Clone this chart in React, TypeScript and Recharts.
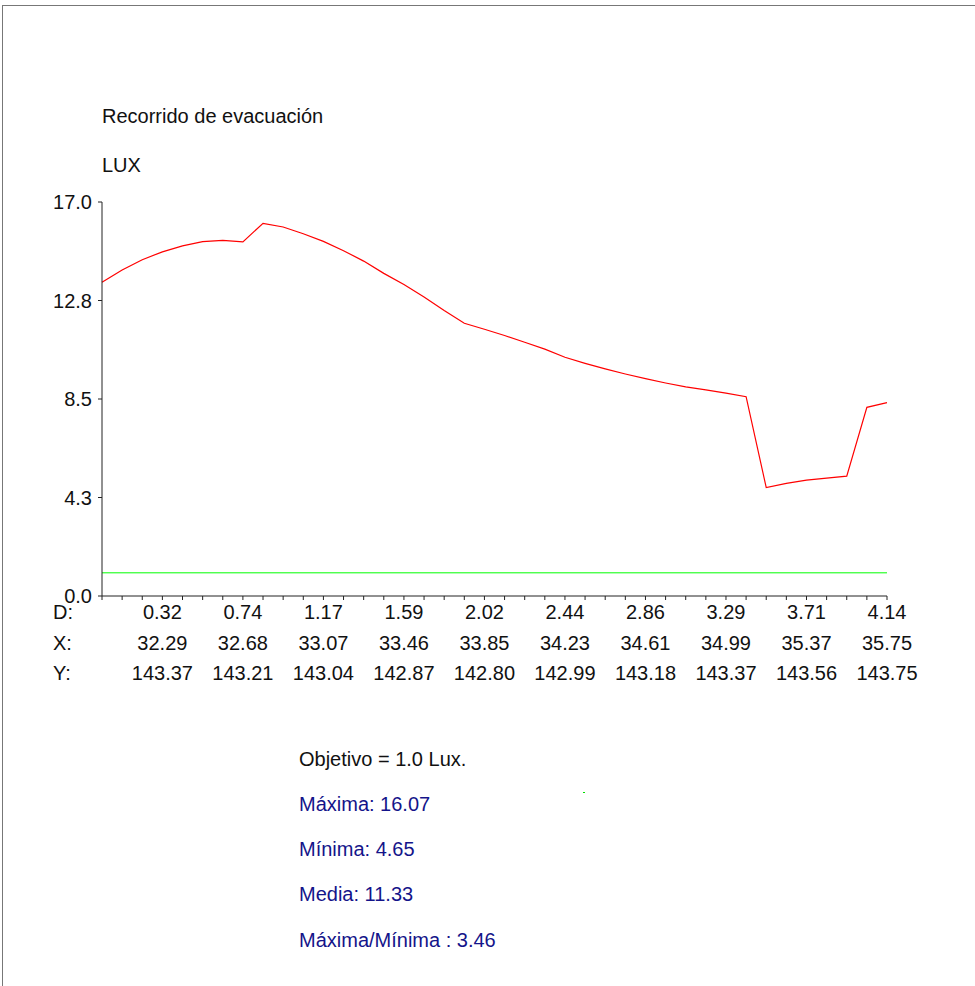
import { LineChart, Line, XAxis, YAxis, ReferenceLine } from "recharts";

// illuminance along the route, one value per calculation point
const luxValues = [
  13.54, 14.07, 14.51, 14.85, 15.11, 15.29, 15.34, 15.28, 16.08, 15.92,
  15.63, 15.3, 14.9, 14.45, 13.92, 13.44, 12.9, 12.32, 11.77, 11.51,
  11.24, 10.95, 10.65, 10.3, 10.04, 9.8, 9.58, 9.38, 9.19, 9.02,
  8.89, 8.75, 8.6, 4.68, 4.86, 5.0, 5.09, 5.17, 8.14, 8.34,
];

// labels shown under every fourth point
const dLabels = ["0.32", "0.74", "1.17", "1.59", "2.02", "2.44", "2.86", "3.29", "3.71", "4.14"];
const xLabels = ["32.29", "32.68", "33.07", "33.46", "33.85", "34.23", "34.61", "34.99", "35.37", "35.75"];
const yLabels = ["143.37", "143.21", "143.04", "142.87", "142.80", "142.99", "143.18", "143.37", "143.56", "143.75"];

const yTicks = [0, 4.25, 8.5, 12.75, 17];
const objetivo = 1.0;

const stats = [
  "Máxima: 16.07",
  "Mínima: 4.65",
  "Media: 11.33",
  "Máxima/Mínima : 3.46",
];

const data = luxValues.map((lux, i) => ({ i, lux }));

const FONT = "'Liberation Sans', Arial, Helvetica, sans-serif";
const BLUE = "#14148a";

const PointTick = (props: any) => {
  const { x, y, payload } = props;
  const idx = payload.index;
  const rows: JSX.Element[] = [];
  if (idx === 0) {
    rows.push(
      <g key="heads" fill="#111" fontSize={20} fontFamily={FONT}>
        <text x={x - 49} y={y + 17}>D:</text>
        <text x={x - 49} y={y + 48}>X:</text>
        <text x={x - 49} y={y + 78}>Y:</text>
      </g>
    );
  }
  if (idx % 4 === 3) {
    const k = (idx - 3) / 4;
    rows.push(
      <g key="vals" fill="#111" fontSize={20} fontFamily={FONT} textAnchor="middle">
        <text x={x} y={y + 17}>{dLabels[k]}</text>
        <text x={x} y={y + 48}>{xLabels[k]}</text>
        <text x={x} y={y + 78}>{yLabels[k]}</text>
      </g>
    );
  }
  return <g>{rows}</g>;
};

export default function App() {
  return (
    <div style={{ position: "absolute", left: 0, top: 0, width: 975, height: 986, background: "#fff", fontFamily: FONT }}>
      {/* frame */}
      <div style={{ position: "absolute", left: 2, top: 5, width: 973, height: 1, background: "#777" }} />
      <div style={{ position: "absolute", left: 2, top: 5, width: 1, height: 981, background: "#777" }} />

      <LineChart
        width={975}
        height={986}
        data={data}
        margin={{ top: 202, right: 88, bottom: 300, left: 42 }}
        style={{ position: "absolute", left: 0, top: 0 }}
      >
        <XAxis
          dataKey="i"
          type="category"
          interval={0}
          tickSize={4}
          tickMargin={2}
          height={90}
          tick={<PointTick />}
          axisLine={{ stroke: "#222" }}
          tickLine={{ stroke: "#222" }}
        />
        <YAxis
          width={60}
          domain={[0, 17]}
          ticks={yTicks}
          tickFormatter={(v: number) => v.toFixed(1)}
          tickSize={4}
          tickMargin={6}
          tick={{ fill: "#111", fontSize: 20, fontFamily: FONT }}
          axisLine={{ stroke: "#222" }}
          tickLine={{ stroke: "#222" }}
        />
        <ReferenceLine y={objetivo} stroke="#00ff00" strokeWidth={1} ifOverflow="extendDomain" />
        <Line
          type="linear"
          dataKey="lux"
          stroke="#ff0000"
          strokeWidth={1.2}
          dot={false}
          isAnimationActive={false}
        />
      </LineChart>

      <div style={{ position: "absolute", left: 102, top: 104, fontSize: 20, color: "#111", lineHeight: "24px" }}>
        Recorrido de evacuación
      </div>
      <div style={{ position: "absolute", left: 102, top: 153, fontSize: 20, color: "#111", lineHeight: "24px" }}>
        LUX
      </div>

      <div style={{ position: "absolute", left: 299, top: 747, fontSize: 20, color: "#111", lineHeight: "24px" }}>
        Objetivo = 1.0 Lux.
      </div>
      {stats.map((s, k) => (
        <div
          key={s}
          style={{ position: "absolute", left: 299, top: 792 + k * 45.2, fontSize: 20, color: BLUE, lineHeight: "24px" }}
        >
          {s}
        </div>
      ))}
      <div style={{ position: "absolute", left: 583, top: 792, width: 2, height: 1, background: "#00e000" }} />
    </div>
  );
}
